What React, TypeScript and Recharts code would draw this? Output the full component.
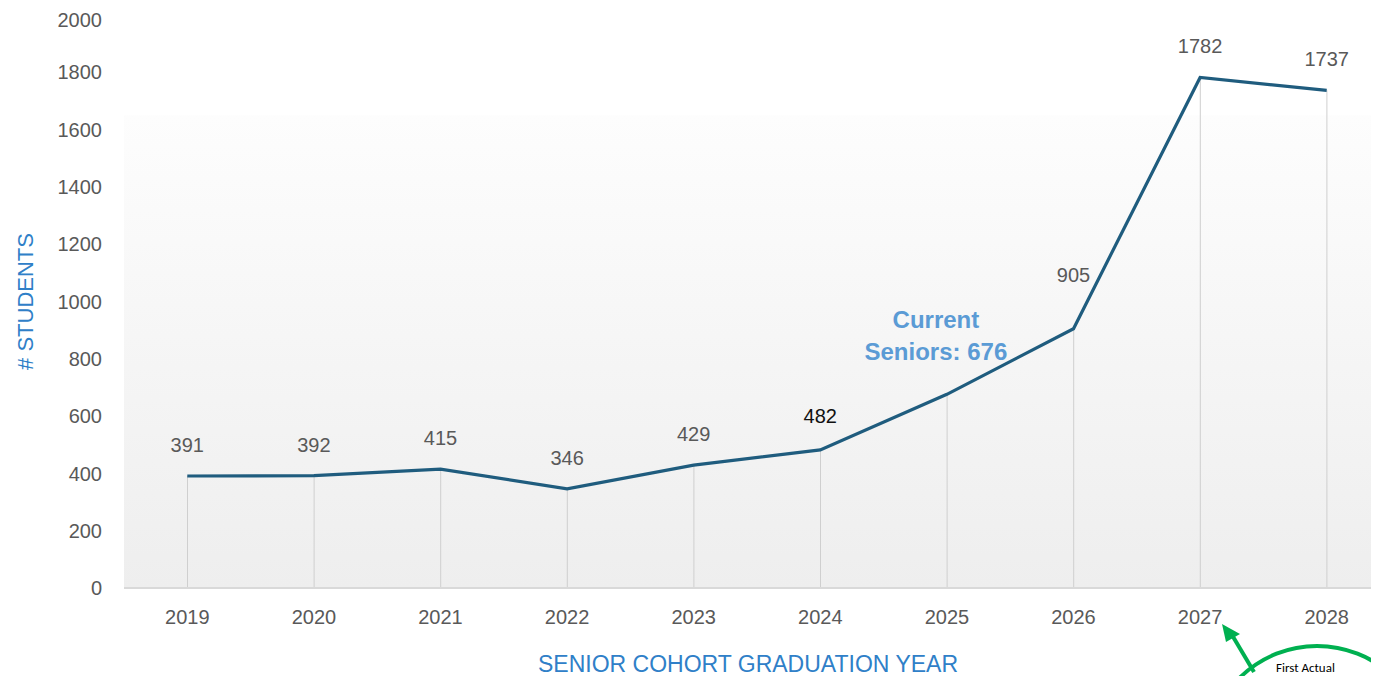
import React from "react";
import { ComposedChart, Line, Bar, XAxis, YAxis, LabelList, ReferenceArea } from "recharts";

const YEARS = ["2019", "2020", "2021", "2022", "2023", "2024", "2025", "2026", "2027", "2028"];
const STUDENTS = [391, 392, 415, 346, 429, 482, 676, 905, 1782, 1737];
const Y_TICKS = [0, 200, 400, 600, 800, 1000, 1200, 1400, 1600, 1800, 2000];

const CURRENT_YEAR = "2025";

const FONT = "'Liberation Sans', Arial, sans-serif";
const GREY = "#595959";
const BLUE = "#2F80C8";

const data = YEARS.map((year, i) => ({ year, students: STUDENTS[i] }));

const PointLabel = (props: any) => {
  const x = props.x ?? props.viewBox?.x;
  const y = props.y ?? props.viewBox?.y;
  const value = props.value;
  const index = props.index ?? STUDENTS.indexOf(Number(value));
  if (x == null || y == null) return null;

  if (YEARS[index] === CURRENT_YEAR) {
    return (
      <text textAnchor="middle" fill="#5B9BD5" fontWeight="bold" fontSize={24} fontFamily={FONT}>
        <tspan x={x - 11} y={y - 66}>Current</tspan>
        <tspan x={x - 11} y={y - 34}>Seniors: {value}</tspan>
      </text>
    );
  }

  // 905 sits higher in the original, 482 is drawn in black
  const lift = YEARS[index] === "2026" ? 47 : YEARS[index] === "2024" ? 27 : 24;
  const fill = YEARS[index] === "2024" ? "#111" : GREY;
  return (
    <text x={x} y={y - lift} textAnchor="middle" fill={fill} fontSize={20} fontFamily={FONT}>
      {value}
    </text>
  );
};

export default function App() {
  return (
    <div style={{ width: 1371, height: 668, overflow: "hidden", position: "relative" }}>
      <svg width={0} height={0} style={{ position: "absolute" }}>
        <defs>
          <linearGradient id="plotBg" x1="0" y1="0" x2="0" y2="1">
            <stop offset="0%" stopColor="#fdfdfd" />
            <stop offset="100%" stopColor="#eeeeee" />
          </linearGradient>
        </defs>
      </svg>
      <ComposedChart
        width={1382}
        height={668}
        data={data}
        margin={{ top: 7, right: 0, bottom: 0, left: 0 }}
      >
        <ReferenceArea y1={0} y2={1650} fill="url(#plotBg)" fillOpacity={1} stroke="none" />
        <XAxis
          dataKey="year"
          height={88}
          axisLine={{ stroke: "#d9d9d9", strokeWidth: 2 }}
          tickLine={false}
          tickSize={0}
          tickMargin={22}
          tick={{ fill: GREY, fontSize: 20, fontFamily: FONT }}
          interval={0}
          label={{
            value: "SENIOR COHORT GRADUATION YEAR",
            position: "insideBottom",
            offset: 4,
            dx: -9,
            fill: BLUE,
            fontSize: 23,
            fontFamily: FONT,
          }}
        />
        <YAxis
          width={116}
          domain={[0, 2000]}
          ticks={Y_TICKS}
          axisLine={false}
          tickLine={false}
          tickSize={0}
          tickMargin={22}
          tick={{ fill: GREY, fontSize: 20, fontFamily: FONT }}
          label={{
            value: "# STUDENTS",
            angle: -90,
            position: "insideLeft",
            offset: 17,
            fill: BLUE,
            fontSize: 22,
            fontFamily: FONT,
            style: { textAnchor: "middle" },
          }}
        />
        <Bar dataKey="students" barSize={1} fill="#cfcfcf" isAnimationActive={false} />
        <Line
          type="linear"
          dataKey="students"
          stroke="#1F5C7E"
          strokeWidth={3.2}
          dot={false}
          activeDot={false}
          isAnimationActive={false}
        >
          <LabelList dataKey="students" content={PointLabel} />
        </Line>
      </ComposedChart>
      <svg
        width={1371}
        height={668}
        style={{ position: "absolute", left: 0, top: 0, pointerEvents: "none" }}
      >
        <circle cx={1309} cy={748} r={110} fill="#fff" stroke="#00B050" strokeWidth={4} />
        <text x={1268} y={664} fontSize={13} fontFamily="Calibri, 'Liberation Sans', sans-serif" fill="#000">
          First Actual
        </text>
        <line x1={1246} y1={664} x2={1224} y2={627} stroke="#00B050" strokeWidth={4} />
        <polygon points="1214,616 1232,626 1218,634" fill="#00B050" />
      </svg>
    </div>
  );
}
